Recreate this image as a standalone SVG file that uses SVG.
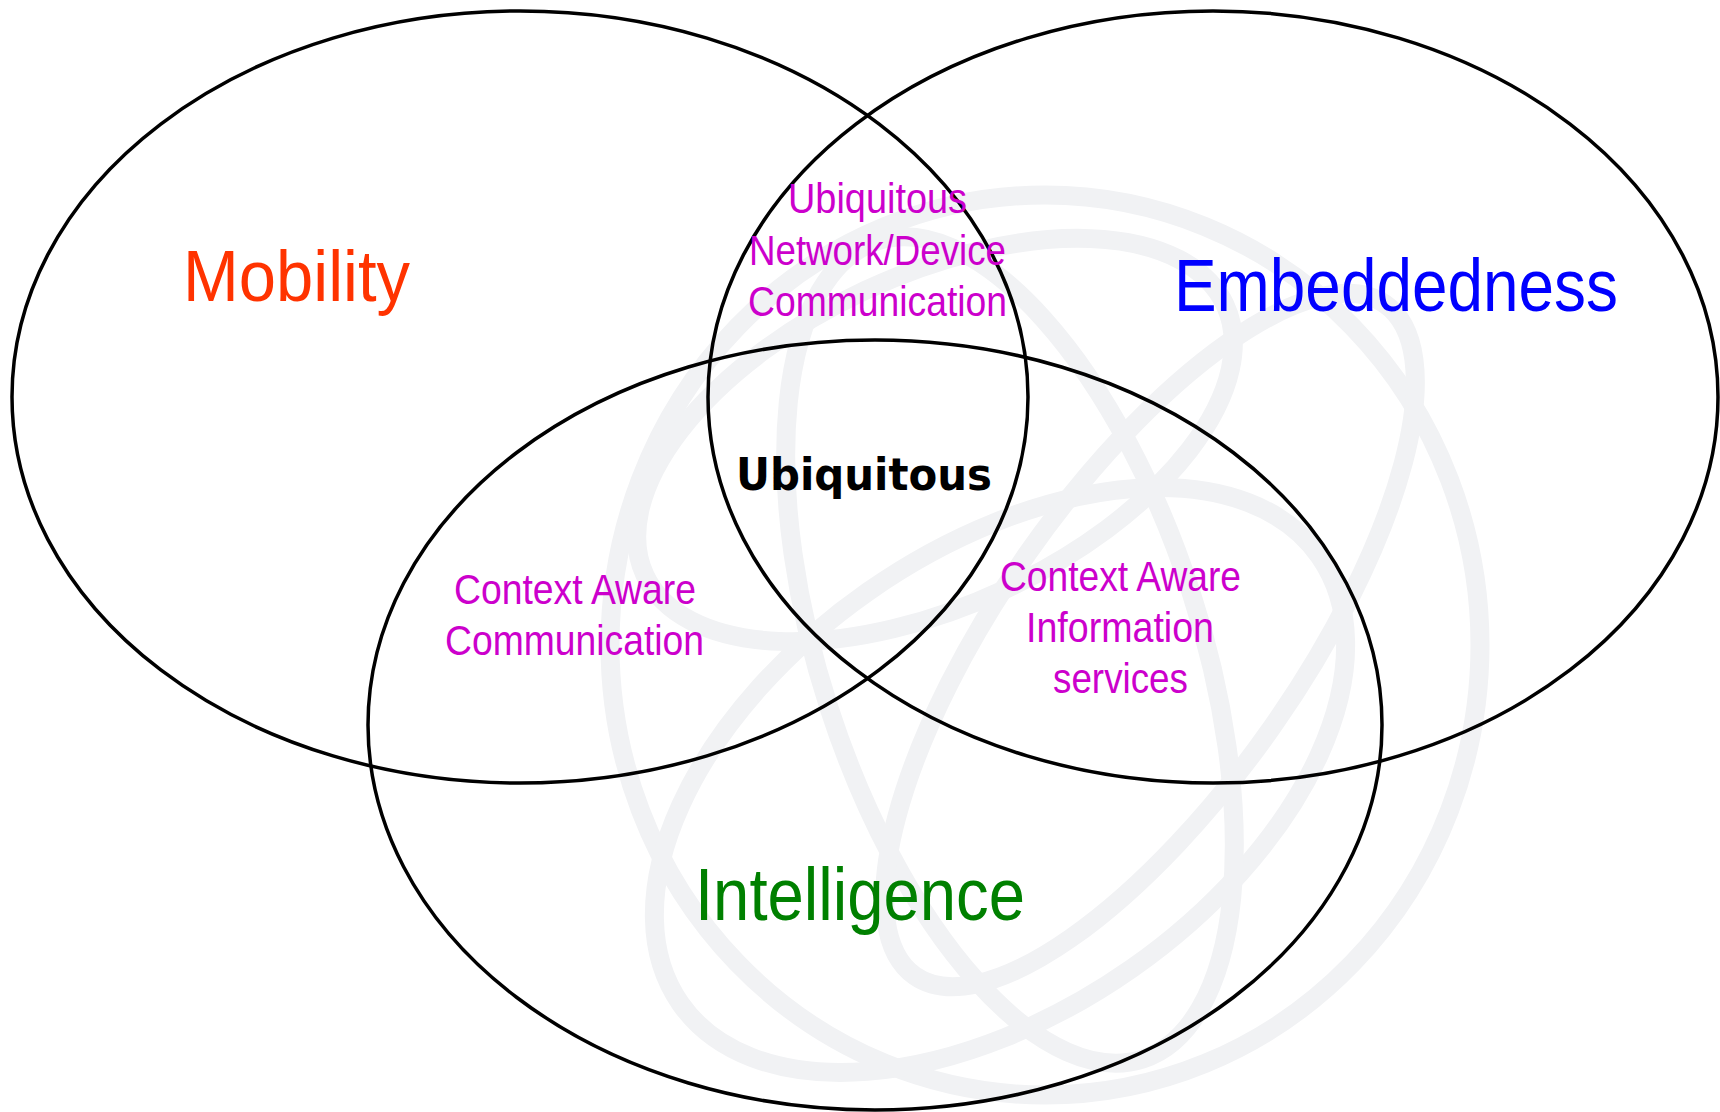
<svg xmlns="http://www.w3.org/2000/svg" width="1720" height="1112" viewBox="0 0 1720 1112">
<style>
.wm{fill:none;stroke:#f1f2f4;stroke-width:19}
.set{fill:none;stroke:#000;stroke-width:3.5}
.big{font-family:"Liberation Sans",Arial,sans-serif}
.mag{font-family:"Liberation Sans",Arial,sans-serif;font-size:42px;fill:#cc00cc}
.core{font-family:"DejaVu Sans","Liberation Sans",sans-serif;font-size:45px;font-weight:bold;fill:#000}
</style>
<rect width="1720" height="1112" fill="#fff"/>
<g id="watermark">
<ellipse class="wm" cx="1045" cy="645" rx="435" ry="450"/>
<ellipse class="wm" cx="935" cy="440" rx="320" ry="165" transform="rotate(-25 935 440)"/>
<ellipse class="wm" cx="1000" cy="780" rx="390" ry="230" transform="rotate(-35 1000 780)"/>
<ellipse class="wm" cx="1010" cy="650" rx="190" ry="430" transform="rotate(-18 1010 650)"/>
<ellipse class="wm" cx="1150" cy="640" rx="150" ry="410" transform="rotate(35 1150 640)"/>
</g>
<g id="mobility">
<ellipse class="set" cx="520" cy="397" rx="508" ry="386"/>
<text class="big" x="183" y="301" font-size="72" fill="#ff3300" textLength="227" lengthAdjust="spacingAndGlyphs">Mobility</text>
</g>
<g id="embeddedness">
<ellipse class="set" cx="1213" cy="397" rx="505" ry="386"/>
<text class="big" x="1174" y="311" font-size="75" fill="#0000ff" textLength="444" lengthAdjust="spacingAndGlyphs">Embeddedness</text>
</g>
<g id="intelligence">
<ellipse class="set" cx="875" cy="725" rx="507" ry="385"/>
<text class="big" x="695" y="920" font-size="74" fill="#008000" textLength="330" lengthAdjust="spacingAndGlyphs">Intelligence</text>
</g>
<g id="mob-emb">
<text class="mag" x="788" y="213" textLength="179" lengthAdjust="spacingAndGlyphs">Ubiquitous</text>
<text class="mag" x="749" y="265" textLength="257" lengthAdjust="spacingAndGlyphs">Network/Device</text>
<text class="mag" x="748" y="316" textLength="259" lengthAdjust="spacingAndGlyphs">Communication</text>
</g>
<g id="mob-int">
<text class="mag" x="454" y="604" textLength="242" lengthAdjust="spacingAndGlyphs">Context Aware</text>
<text class="mag" x="445" y="655" textLength="259" lengthAdjust="spacingAndGlyphs">Communication</text>
</g>
<g id="emb-int">
<text class="mag" x="1000" y="591" textLength="241" lengthAdjust="spacingAndGlyphs">Context Aware</text>
<text class="mag" x="1026" y="642" textLength="188" lengthAdjust="spacingAndGlyphs">Information</text>
<text class="mag" x="1053" y="693" textLength="135" lengthAdjust="spacingAndGlyphs">services</text>
</g>
<g id="ubiquitous">
<text class="core" x="736" y="490" textLength="256" lengthAdjust="spacingAndGlyphs">Ubiquitous</text>
</g>
<g id="connectors"/>
</svg>
